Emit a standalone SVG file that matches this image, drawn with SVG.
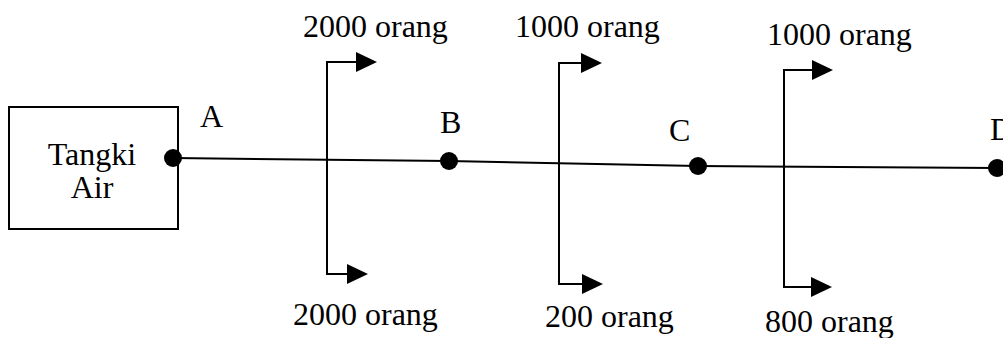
<svg xmlns="http://www.w3.org/2000/svg" width="1003" height="338" viewBox="0 0 1003 338">
<style>
text{font-family:'Liberation Serif','Times New Roman','DejaVu Serif',serif;font-size:32px;fill:#000}
.ln{fill:none;stroke:#000;stroke-width:2}
.dot{fill:#000}
</style>
<defs>
<marker id="ah" viewBox="0 0 21 20" refX="0" refY="10" markerWidth="21" markerHeight="20" markerUnits="userSpaceOnUse" orient="auto">
<path d="M0 0 L21 10 L0 20 Z" fill="#000"/>
</marker>
</defs>
<rect width="1003" height="338" fill="#fff"/>
<g id="connectors">
<path class="ln" d="M173 158 L449 161 L698 166 L997 168"/>
<path class="ln" d="M327 160 V62 H356" marker-end="url(#ah)"/>
<path class="ln" d="M327 160 V274 H347" marker-end="url(#ah)"/>
<path class="ln" d="M559 164 V63 H581" marker-end="url(#ah)"/>
<path class="ln" d="M559 164 V284 H582" marker-end="url(#ah)"/>
<path class="ln" d="M784 167 V70 H812" marker-end="url(#ah)"/>
<path class="ln" d="M784 167 V287 H811" marker-end="url(#ah)"/>
</g>
<g id="tangki">
<rect class="ln" x="9" y="107" width="169" height="122"/>
<text x="92" y="165" text-anchor="middle">Tangki</text>
<text x="92" y="198" text-anchor="middle">Air</text>
</g>
<g id="nodeA"><circle class="dot" cx="173" cy="158" r="9"/><text x="200" y="127">A</text></g>
<g id="nodeB"><circle class="dot" cx="449" cy="161" r="9"/><text x="440" y="133">B</text></g>
<g id="nodeC"><circle class="dot" cx="698" cy="166" r="9"/><text x="669" y="141">C</text></g>
<g id="nodeD"><circle class="dot" cx="997" cy="168" r="9"/><text x="990" y="140">D</text></g>
<g id="labels">
<text x="303" y="37">2000 orang</text>
<text x="515" y="37">1000 orang</text>
<text x="767" y="45">1000 orang</text>
<text x="293" y="325">2000 orang</text>
<text x="545" y="327">200 orang</text>
<text x="765" y="332">800 orang</text>
</g>
</svg>
